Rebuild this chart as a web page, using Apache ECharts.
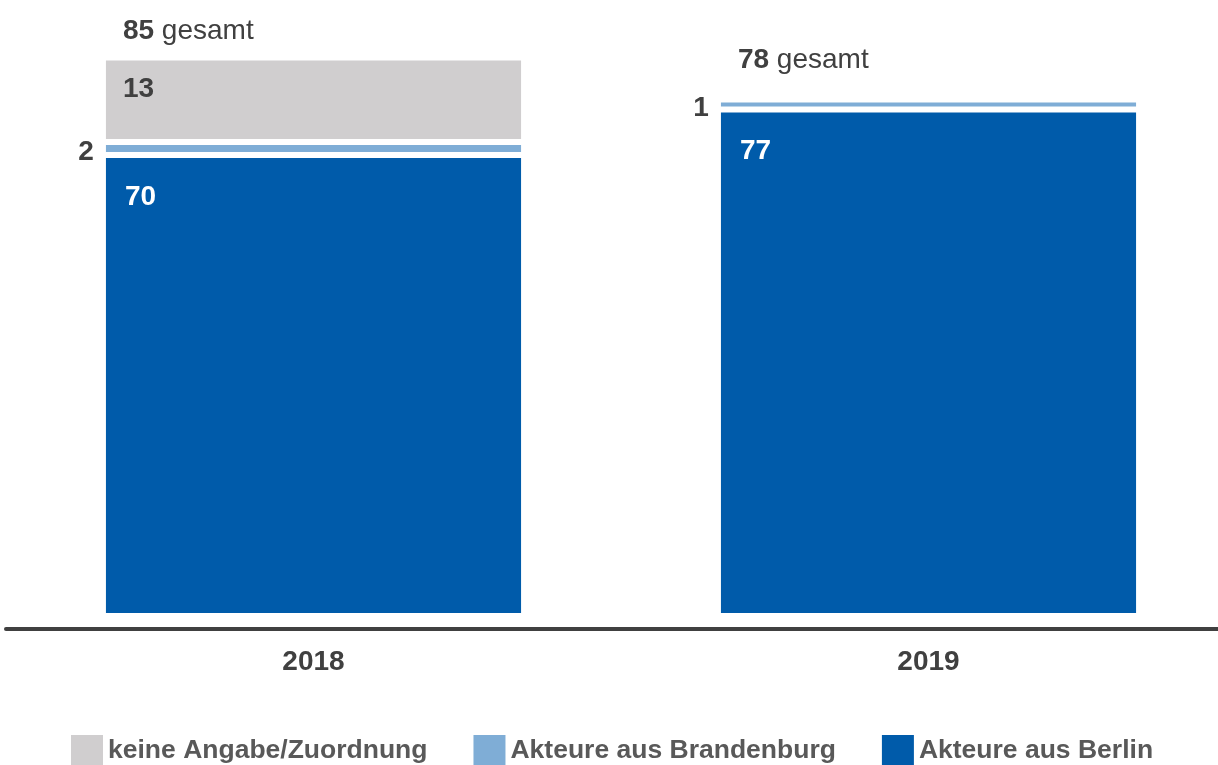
<!DOCTYPE html>
<html><head><meta charset="utf-8">
<script src="https://cdn.jsdelivr.net/npm/echarts@6/dist/echarts.min.js"></script>
<style>html,body{margin:0;padding:0;background:#fff}#c{width:1218px;height:765px}</style>
</head><body><div id="c"></div>
<script>
// ---- data ----
const categories = ['2018', '2019'];
const berlin = [70, 77];
const brandenburg = [2, 1];
const keineAngabe = [13, 0];
const totals = [85, 78];
const seriesNames = ['keine Angabe/Zuordnung', 'Akteure aus Brandenburg', 'Akteure aus Berlin'];

// ---- style ----
const FONT = '"Liberation Sans", Arial, Helvetica, sans-serif';
const C_BERLIN = '#005BAA', C_BB = '#7FADD6', C_GRAY = '#D0CECF', C_TEXT = '#404040';
const BAR_RATIO = 0.675, GAP = 6, MIN_H = 4;
const gesamtLift = [29, 46];

function txt(text, x, y, align, fill) {
  return {
    type: 'text',
    style: {
      text: text, x: x, y: y,
      align: align, textAlign: align,
      verticalAlign: 'middle', textVerticalAlign: 'middle',
      fill: fill, fontSize: 28, fontWeight: 'bold', fontFamily: FONT
    }
  };
}

function segment(baseOf, gapBelow, labelFn) {
  return function (params, api) {
    const i = params.dataIndex;
    const v = api.value(1);
    if (!v) return null;
    const base = baseOf(i);
    const pb = api.coord([i, base]);
    const pt = api.coord([i, base + v]);
    const w = api.size([1, 0])[0] * BAR_RATIO;
    const left = pb[0] - w / 2;
    const bottom = pb[1] - gapBelow;
    let top = pt[1];
    if (bottom - top < MIN_H) top = bottom - MIN_H;
    const children = [{
      type: 'rect',
      shape: { x: left, y: top, width: w, height: bottom - top },
      style: { fill: api.visual('color') }
    }];
    if (labelFn) children.push(labelFn(v, left, top, bottom));
    return { type: 'group', children: children };
  };
}

const toData = arr => arr.map((v, i) => [i, v]);

const option = {
  animation: false,
  backgroundColor: '#fff',
  grid: { left: 6, width: 1230, top: 28, bottom: 152, outerBoundsMode: 'none', containLabel: false },
  xAxis: {
    type: 'category', data: categories, offset: 16,
    axisLine: { onZero: false, lineStyle: { color: '#404040', width: 4 } },
    axisTick: { show: false },
    axisLabel: { margin: 19, fontSize: 28, fontWeight: 'bold', color: C_TEXT, fontFamily: FONT }
  },
  yAxis: { type: 'value', min: 0, max: 90, show: false },
  legend: {
    data: seriesNames, left: 71, top: 735, padding: 0,
    itemWidth: 32, itemHeight: 31, itemGap: 46,
    icon: 'rect', selectedMode: false,
    textStyle: { fontSize: 26.5, fontWeight: 'bold', color: '#595959', fontFamily: FONT, padding: [4, 0, 0, 0] }
  },
  series: [
    {
      type: 'custom', name: seriesNames[2], data: toData(berlin), encode: { x: 0, y: 1 },
      itemStyle: { color: C_BERLIN },
      renderItem: segment(() => 0, 0, (v, left, top) => txt(String(v), left + 19, top + 39, 'left', '#fff'))
    },
    {
      type: 'custom', name: seriesNames[1], data: toData(brandenburg), encode: { x: 0, y: 1 },
      itemStyle: { color: C_BB },
      renderItem: segment(i => berlin[i], GAP, (v, left, top, bottom) => txt(String(v), left - 12, (top + bottom) / 2 + 4, 'right', C_TEXT))
    },
    {
      type: 'custom', name: seriesNames[0], data: toData(keineAngabe), encode: { x: 0, y: 1 },
      itemStyle: { color: C_GRAY },
      renderItem: segment(i => berlin[i] + brandenburg[i], GAP, (v, left, top) => txt(String(v), left + 17, top + 29, 'left', C_TEXT))
    },
    {
      type: 'custom', name: 'gesamt', data: toData(totals), encode: { x: 0, y: 1 },
      itemStyle: { color: 'transparent' },
      renderItem: function (params, api) {
        const i = params.dataIndex;
        const p = api.coord([i, api.value(1)]);
        const w = api.size([1, 0])[0] * BAR_RATIO;
        const left = p[0] - w / 2;
        return {
          type: 'text',
          style: {
            text: '{b|' + api.value(1) + '} gesamt',
            x: left + 17, y: p[1] - gesamtLift[i],
            align: 'left', textAlign: 'left', verticalAlign: 'middle', textVerticalAlign: 'middle',
            fill: C_TEXT, fontSize: 28, fontFamily: FONT,
            rich: { b: { fontWeight: 'bold', fontSize: 28, fontFamily: FONT, fill: C_TEXT, color: C_TEXT } }
          }
        };
      }
    }
  ]
};

const chart = echarts.init(document.getElementById('c'), null, { renderer: 'canvas' });
chart.setOption(option);
</script>
</body></html>
